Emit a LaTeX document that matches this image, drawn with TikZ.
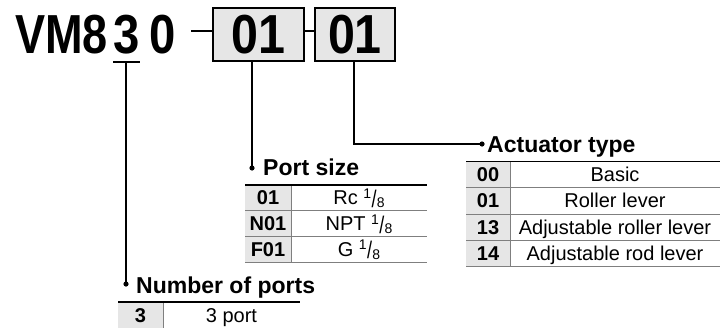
\documentclass[tikz,border=0pt]{standalone}
\usepackage{fontspec}
\setmainfont{Liberation Sans}
\definecolor{boxgray}{HTML}{E6E6E6}
\definecolor{rulegray}{HTML}{7F7F7F}
\newcommand{\eighth}{\raisebox{6.5pt}{\fontsize{14}{14}\selectfont 1}\kern0.3pt\raisebox{-2.5pt}{\scalebox{0.9}[1.2]{/}}\kern0.3pt\raisebox{-3pt}{\fontsize{14}{14}\selectfont 8}}
\begin{document}
\begin{tikzpicture}[x=1pt,y=-1pt,
  title/.style={font=\fontsize{55}{55}\selectfont\bfseries, inner sep=0pt},
  codebox/.style={draw, line width=1.6pt, fill=boxgray, minimum height=53pt, inner sep=0pt},
  conn/.style={line width=1.5pt},
  heading/.style={font=\fontsize{23}{23}\selectfont\bfseries, inner sep=0pt, anchor=base west},
  keytext/.style={font=\fontsize{20}{20}\selectfont\bfseries, inner sep=0pt, anchor=base},
  valtext/.style={font=\fontsize{20}{20}\selectfont, inner sep=0pt, anchor=base},
  toprule/.style={line width=1.6pt},
  grayrule/.style={line width=0.9pt, draw=rulegray},
  keycell/.style={fill=boxgray}
]
\useasboundingbox (0,0) rectangle (720,327);

% ---- title ----
\node[title, anchor=base west] (vm8) at (15,53) {\scalebox{0.82}[1]{VM8}};
\node[title, anchor=base] (d3) at (126.5,53) {\scalebox{0.86}[1]{3}};
\node[title, anchor=base] (d0) at (162.5,53) {\scalebox{0.86}[1]{0}};
\node[codebox, minimum width=91pt] (box1) at (258.5,34.5) {};
\node[codebox, minimum width=80pt] (box2) at (355,34.5) {};
\node[title, anchor=base] (c1) at (box1.center |- 0,53) {\scalebox{0.88}[1]{01}};
\node[title, anchor=base] (c2) at (box2.center |- 0,53) {\scalebox{0.88}[1]{01}};
\coordinate (dashstart) at (191,31);
\draw[conn] (dashstart) -- (box1.west |- dashstart);
\draw[conn] (box1.east |- dashstart) -- (box2.west |- dashstart);

% underline of 3
\coordinate (ulA) at (113,62);
\coordinate (ulB) at (140,62);
\draw[conn] (ulA) -- (ulB);

% ---- connectors ----
\coordinate (np) at (126,62);
\coordinate (npdot) at (126,284);
\draw[conn] (np) -- (npdot);
\fill (npdot) circle[radius=2.6pt];

\coordinate (ps) at (252,61);
\coordinate (psdot) at (252,168);
\draw[conn] (ps) -- (psdot);
\fill (psdot) circle[radius=2.6pt];

\coordinate (at) at (354,61);
\coordinate (atdot) at (482,144);
\draw[conn] (at) |- (atdot);
\fill (atdot) circle[radius=2.6pt];

% ---- headings ----
\node[heading] (hps) at (263,175) {Port size};
\node[heading] (hat) at (487,152) {Actuator type};
\node[heading] (hnp) at (136,293) {Number of ports};

% ---- Port size table ----
\fill[keycell] (245,185) rectangle (291,262);
\draw[grayrule] (245,210.7) -- (427,210.7);
\draw[grayrule] (245,236.3) -- (427,236.3);
\draw[grayrule] (245,262) -- (427,262);
\draw[grayrule] (291,185) -- (291,262);
\draw[toprule] (245,185) -- (427,185);
\node[keytext] (p1k) at (268,204.8) {01};
\node[valtext] (p1v) at (359,204.8) {Rc \eighth};
\node[keytext] (p2k) at (268,230.5) {N01};
\node[valtext] (p2v) at (359,230.5) {NPT \eighth};
\node[keytext] (p3k) at (268,256.2) {F01};
\node[valtext] (p3v) at (359,256.2) {G \eighth};

% ---- Actuator type table ----
\fill[keycell] (466,161.5) rectangle (510,266.5);
\draw[grayrule] (466,187.75) -- (720,187.75);
\draw[grayrule] (466,214) -- (720,214);
\draw[grayrule] (466,240.25) -- (720,240.25);
\draw[grayrule] (466,266.5) -- (720,266.5);
\draw[grayrule] (510,161.5) -- (510,266.5);
\draw[toprule] (466,161.5) -- (720,161.5);
\node[keytext] (a1k) at (488,181.6) {00};
\node[valtext] (a1v) at (615,181.6) {Basic};
\node[keytext] (a2k) at (488,207.9) {01};
\node[valtext] (a2v) at (615,207.9) {Roller lever};
\node[keytext] (a3k) at (488,234.1) {13};
\node[valtext] (a3v) at (615,234.1) {Adjustable roller lever};
\node[keytext] (a4k) at (488,260.4) {14};
\node[valtext] (a4v) at (615,260.4) {Adjustable rod lever};

% ---- Number of ports table ----
\fill[keycell] (118,302) rectangle (163,328);
\draw[grayrule] (163,302) -- (163,328);
\draw[toprule] (118,302) -- (300,302);
\node[keytext] (n1k) at (140.5,322) {3};
\node[valtext] (n1v) at (231.5,322) {3 port};
\end{tikzpicture}
\end{document}
